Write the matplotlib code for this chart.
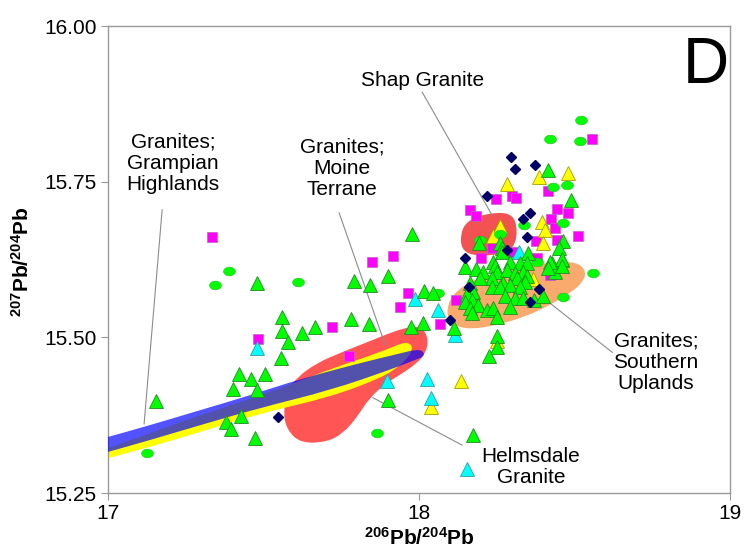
import numpy as np
import matplotlib
matplotlib.use('Agg')
import matplotlib.pyplot as plt
from matplotlib.patches import PathPatch
from matplotlib.path import Path

plt.rcParams['font.family'] = ['Liberation Sans', 'DejaVu Sans']
plt.rcParams['mathtext.fontset'] = 'custom'
plt.rcParams['mathtext.rm'] = 'Liberation Sans'
plt.rcParams['mathtext.bf'] = 'Liberation Sans:bold'

# ---- sample data (206Pb/204Pb, 207Pb/204Pb) ----
green_tri_x = [17.479, 17.559, 17.559, 17.624, 17.579, 17.556, 17.421, 17.460, 17.505, 17.402,
               17.479, 17.154, 17.428, 17.379, 17.395, 17.473, 17.977, 17.791, 17.842, 17.900,
               18.016, 18.045, 17.781, 17.839, 17.974, 18.013, 17.666, 17.900, 18.113, 18.174,
               18.251, 18.251, 18.225,
               18.415, 18.489, 18.463, 18.450, 18.460, 18.428, 18.437, 18.193, 18.260, 18.267,
               18.267, 18.350, 18.148, 18.183, 18.206, 18.238, 18.244, 18.251, 18.293, 18.325,
               18.347, 18.421, 18.460, 18.460, 18.415, 18.283, 18.309, 18.334, 18.347, 18.235,
               18.270, 18.315, 18.341, 18.196, 18.164, 18.235, 18.260, 18.293, 18.325, 18.174,
               18.154, 18.277, 18.309, 18.334, 18.370, 18.399, 18.170, 18.148, 18.190, 18.164,
               18.170, 18.219, 18.238, 18.251, 18.293]
green_tri_y = [15.587, 15.533, 15.510, 15.507, 15.493, 15.467, 15.441, 15.433, 15.441, 15.417,
               15.415, 15.398, 15.374, 15.364, 15.353, 15.338, 15.666, 15.590, 15.584, 15.599,
               15.574, 15.571, 15.529, 15.521, 15.517, 15.523, 15.517, 15.399, 15.515, 15.343,
               15.502, 15.485, 15.470,
               15.769, 15.721, 15.655, 15.644, 15.624, 15.619, 15.605, 15.652, 15.652, 15.644,
               15.637, 15.635, 15.613, 15.610, 15.605, 15.621, 15.615, 15.605, 15.621, 15.619,
               15.619, 15.621, 15.626, 15.614, 15.611, 15.608, 15.603, 15.605, 15.599, 15.595,
               15.587, 15.595, 15.589, 15.595, 15.587, 15.581, 15.581, 15.584, 15.581, 15.573,
               15.570, 15.566, 15.563, 15.563, 15.560, 15.566, 15.560, 15.557, 15.552, 15.547,
               15.539, 15.544, 15.547, 15.533, 15.549]

green_circ_x = [17.389, 17.344, 17.611, 17.125, 18.061, 17.865, 18.521, 18.421, 18.518, 18.431,
                18.476, 18.463, 18.338, 18.260, 18.196, 18.379, 18.559, 18.463]
green_circ_y = [15.607, 15.584, 15.589, 15.314, 15.571, 15.346, 15.849, 15.819, 15.815, 15.741,
                15.745, 15.684, 15.680, 15.666, 15.656, 15.621, 15.603, 15.565]

magenta_sq_x = [17.334, 17.482, 17.849, 17.916, 17.965, 17.939, 17.720, 17.775, 18.119, 18.068,
                18.556, 18.415, 18.248, 18.299, 18.312, 18.164, 18.183, 18.444, 18.479, 18.424,
                18.437, 18.511, 18.444, 18.376, 18.235, 18.302, 18.199, 18.379, 18.421]
magenta_sq_y = [15.661, 15.497, 15.621, 15.631, 15.571, 15.549, 15.517, 15.470, 15.560, 15.521,
                15.819, 15.735, 15.722, 15.727, 15.724, 15.705, 15.695, 15.706, 15.700, 15.690,
                15.676, 15.663, 15.656, 15.655, 15.644, 15.637, 15.627, 15.627, 15.600]

navy_dia_x = [17.547, 18.100, 18.296, 18.309, 18.373, 18.219, 18.357, 18.334, 18.347, 18.283,
              18.148, 18.161, 18.386, 18.357]
navy_dia_y = [15.372, 15.528, 15.790, 15.770, 15.777, 15.727, 15.700, 15.690, 15.661, 15.640,
              15.627, 15.581, 15.578, 15.557]

cyan_tri_x = [17.479, 17.987, 18.061, 18.116, 17.897, 18.026, 18.039, 18.154, 18.322]
cyan_tri_y = [15.483, 15.562, 15.544, 15.504, 15.430, 15.433, 15.403, 15.289, 15.637]

yellow_tri_x = [18.039, 18.135, 18.251, 18.283, 18.386, 18.479, 18.395, 18.405, 18.260, 18.238,
                18.399, 18.367]
yellow_tri_y = [15.388, 15.430, 15.494, 15.746, 15.758, 15.764, 15.685, 15.672, 15.679, 15.663,
                15.652, 15.594]

# ---- field outlines (control points of smooth closed curves) ----
moine_x = [17.576, 17.563, 17.579, 17.608, 17.672, 17.746, 17.852, 17.916, 17.971, 18.010,
           18.030, 18.022, 17.994, 17.949, 17.897, 17.842, 17.801, 17.756, 17.704, 17.620]
moine_y = [15.351, 15.379, 15.415, 15.436, 15.459, 15.475, 15.496, 15.509, 15.517, 15.516,
           15.498, 15.475, 15.459, 15.443, 15.427, 15.404, 15.372, 15.346, 15.332, 15.330]

shap_x = [18.137, 18.133, 18.148, 18.185, 18.247, 18.296, 18.314, 18.313, 18.288, 18.229, 18.168]
shap_y = [15.642, 15.664, 15.683, 15.694, 15.701, 15.698, 15.682, 15.654, 15.637, 15.631, 15.632]

uplands_x = [18.093, 18.106, 18.138, 18.180, 18.260, 18.357, 18.437, 18.505, 18.536, 18.530,
             18.492, 18.421, 18.341, 18.244, 18.164, 18.112, 18.090]
uplands_y = [15.552, 15.566, 15.581, 15.594, 15.605, 15.615, 15.621, 15.621, 15.608, 15.591,
             15.573, 15.552, 15.533, 15.519, 15.513, 15.519, 15.534]

helmsdale_x = [16.95, 17.000, 17.135, 17.296, 17.457, 17.617, 17.714, 17.875, 17.949, 17.972,
               17.979, 17.968, 17.939, 17.884, 17.714, 17.498, 17.296, 17.135, 17.000, 16.95]
helmsdale_y = [15.314, 15.322, 15.346, 15.375, 15.401, 15.430, 15.449, 15.476, 15.492, 15.490,
               15.482, 15.470, 15.455, 15.436, 15.404, 15.379, 15.348, 15.324, 15.306, 15.299]

grampian_x = [16.95, 17.000, 17.135, 17.296, 17.457, 17.617, 17.820, 17.929, 17.994, 18.016,
              18.014, 17.994, 17.907, 17.714, 17.498, 17.296, 17.135, 17.000, 16.95]
grampian_y = [15.333, 15.340, 15.359, 15.383, 15.407, 15.433, 15.460, 15.473, 15.481, 15.477,
              15.469, 15.465, 15.448, 15.415, 15.388, 15.359, 15.335, 15.316, 15.309]

# labels: text, x, y, leader line (x0, y0, x1, y1)
labels = [
    ('Granites;\nGrampian\nHighlands', 17.209, 15.780, (17.174, 15.705, 17.116, 15.361)),
    ('Granites;\nMoine\nTerrane', 17.752, 15.772, (17.743, 15.700, 17.891, 15.488)),
    ('Shap Granite', 18.010, 15.912, (18.010, 15.894, 18.235, 15.696)),
    ('Granites;\nSouthern\nUplands', 18.762, 15.460, (18.421, 15.555, 18.621, 15.476)),
    ('Helmsdale\nGranite', 18.360, 15.292, (17.852, 15.403, 18.138, 15.327)),
]


def smooth_field(xs, ys):
    # closed quadratic-bezier path: outline points act as control points
    p = np.column_stack([xs, ys])
    mids = (p + np.roll(p, -1, axis=0)) / 2
    verts = [mids[-1]]
    codes = [Path.MOVETO]
    for i in range(len(p)):
        verts += [p[i], mids[i]]
        codes += [Path.CURVE3, Path.CURVE3]
    verts.append(mids[-1])
    codes.append(Path.CLOSEPOLY)
    return Path(np.array(verts), codes)


fig = plt.figure(figsize=(7.45, 5.5), dpi=100)
ax = fig.add_axes([0.145, 0.1036, 0.835, 0.849])

# fields
ax.add_patch(PathPatch(smooth_field(moine_x, moine_y), fc='#ff5555', ec='none', zorder=1))
ax.add_patch(PathPatch(smooth_field(shap_x, shap_y), fc='#f25252', ec='none', zorder=1))
ax.add_patch(PathPatch(smooth_field(uplands_x, uplands_y), fc='#f9aa6c', ec='none', zorder=1))
ax.add_patch(PathPatch(smooth_field(helmsdale_x, helmsdale_y), fc='#ffff00', ec='none', zorder=2))
ax.add_patch(PathPatch(smooth_field(grampian_x, grampian_y), fc='#0000ff', alpha=0.68, ec='none', zorder=3))

# leader lines and field names
for txt, tx, ty, (x0, y0, x1, y1) in labels:
    ax.plot([x0, x1], [y0, y1], color='#8c8c8c', lw=0.8, zorder=4)
    ax.text(tx, ty, txt, ha='center', va='center', fontsize=15, linespacing=1.15, zorder=6)

# samples
t = np.linspace(0, 2 * np.pi, 40)
ellipse = np.column_stack([np.cos(t), 0.74 * np.sin(t)])

ax.plot(magenta_sq_x, magenta_sq_y, ls='none', marker='s', ms=7.7, mfc='#ff00ff', mec='#c060c0', mew=0.5, zorder=5)
ax.plot(yellow_tri_x, yellow_tri_y, ls='none', marker='^', ms=9.5, mfc='#ffff00', mec='#a0a000', mew=0.6, zorder=5)
ax.plot(cyan_tri_x, cyan_tri_y, ls='none', marker='^', ms=9.5, mfc='#00ffff', mec='#2aa0a0', mew=0.6, zorder=5)
ax.plot(green_circ_x, green_circ_y, ls='none', marker=ellipse, ms=8.5, mfc='#00ff00', mec='#22bb22', mew=0.4, zorder=5)
ax.plot(green_tri_x, green_tri_y, ls='none', marker='^', ms=9.5, mfc='#00ff00', mec='#228b22', mew=0.6, zorder=5)
ax.plot(navy_dia_x, navy_dia_y, ls='none', marker='D', ms=5.3, mfc='#000066', mec='#000066', zorder=5)

ax.set_xlim(17, 19)
ax.set_ylim(15.25, 16.00)
ax.set_xticks([17, 18, 19])
ax.set_yticks([15.25, 15.50, 15.75, 16.00])
ax.set_yticklabels(['15.25', '15.50', '15.75', '16.00'])
ax.tick_params(direction='out', length=5, width=0.8, color='#999999', labelsize=15, pad=3)
for s in ax.spines.values():
    s.set_color('#999999')
    s.set_linewidth(1)

ax.text(0.998, 0.978, 'D', transform=ax.transAxes, ha='right', va='top', fontsize=46)

fig.text(0.5624, 0.022, r'$\mathbf{^{206}Pb/^{204}Pb}$', ha='center', va='center', fontsize=15)
fig.text(0.0295, 0.5236, r'$\mathbf{^{207}Pb/^{204}Pb}$', ha='center', va='center', fontsize=15, rotation=90)

fig.savefig('out.png', dpi=100)
